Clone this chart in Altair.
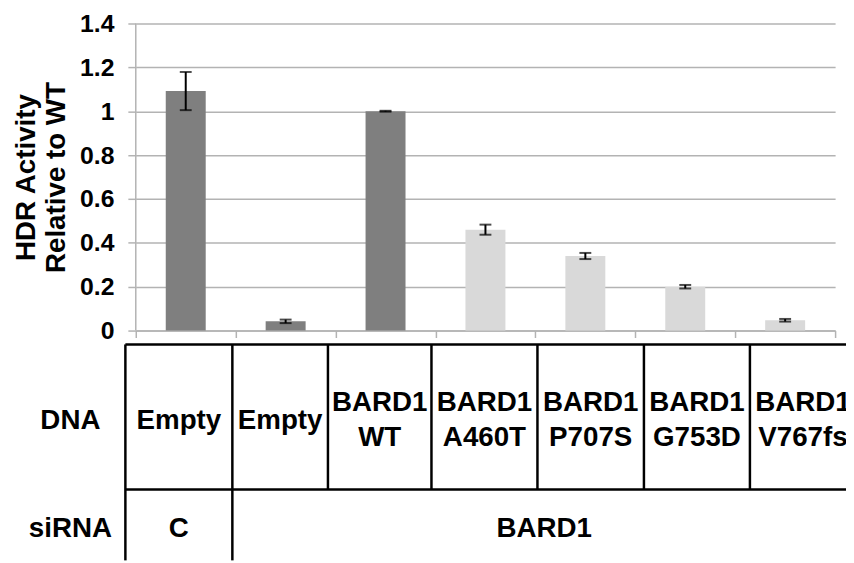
import altair as alt
import pandas as pd

# ---------------- data ----------------
bar_ids = ["Empty (siC)", "Empty (siBARD1)", "BARD1 WT", "BARD1 A460T",
           "BARD1 P707S", "BARD1 G753D", "BARD1 V767fs"]
hdr_values = [1.092, 0.042, 1.000, 0.460, 0.340, 0.200, 0.047]
hdr_errors = [0.087, 0.008, 0.002, 0.023, 0.014, 0.008, 0.006]
bar_group = ["dark", "dark", "dark", "light", "light", "light", "light"]

dna_line1 = ["Empty", "Empty", "BARD1", "BARD1", "BARD1", "BARD1", "BARD1"]
dna_line2 = ["", "", "WT", "A460T", "P707S", "G753D", "V767fs"]
sirna_labels = ["C", "BARD1"]
sirna_span = [(0, 1), (1, 7)]          # table columns covered by each siRNA cell
row_titles = ["DNA", "siRNA"]
y_ticks = [0, 0.2, 0.4, 0.6, 0.8, 1, 1.2, 1.4]
y_title = ["HDR Activity", "Relative to WT"]

# ---------------- layout ----------------
FONT = "Liberation Sans"
GRID = "#b3b3b3"
PAD_L, PAD_T = 129, 13
W, H = 706, 542
ZERO_PX = 310                           # pixels from plot top to y = 0
Y_MAX = y_ticks[-1]
Y_MIN = -(H - ZERO_PX) * Y_MAX / ZERO_PX

COL_EDGES = [-10.5, 97.5, 194, 298.5, 405.5, 513, 620, 727]
ROW_TOP, ROW_MID, ROW_BOT = 324, 470.5, 542
HEAD_X = -66
ROW1_Y, ROW2_Y = 401, 510
LINE_GAP = 35

# ---------------- frames ----------------
bars_df = pd.DataFrame({"id": bar_ids, "v": hdr_values, "e": hdr_errors, "g": bar_group})
bars_df["lo"] = bars_df["v"] - bars_df["e"]
bars_df["hi"] = bars_df["v"] + bars_df["e"]

txt = [{"t": row_titles[0], "x": HEAD_X, "y": ROW1_Y},
       {"t": row_titles[1], "x": HEAD_X, "y": ROW2_Y}]
for i, (a, b) in enumerate(zip(dna_line1, dna_line2)):
    cx = (COL_EDGES[i] + COL_EDGES[i + 1]) / 2
    if b:
        txt.append({"t": a, "x": cx, "y": ROW1_Y - LINE_GAP / 2})
        txt.append({"t": b, "x": cx, "y": ROW1_Y + LINE_GAP / 2})
    else:
        txt.append({"t": a, "x": cx, "y": ROW1_Y})
for lab, (a, b) in zip(sirna_labels, sirna_span):
    txt.append({"t": lab, "x": (COL_EDGES[a] + COL_EDGES[b]) / 2, "y": ROW2_Y})
txt_df = pd.DataFrame(txt)

lines = [{"x": COL_EDGES[0], "x2": COL_EDGES[-1], "y": ROW_TOP, "y2": ROW_TOP},
         {"x": COL_EDGES[0], "x2": COL_EDGES[-1], "y": ROW_MID, "y2": ROW_MID}]
for i, e in enumerate(COL_EDGES[:-1]):
    lines.append({"x": e, "x2": e, "y": ROW_TOP, "y2": ROW_BOT if i < 2 else ROW_MID})
lines_df = pd.DataFrame(lines)

# ---------------- bar panel ----------------
x_band = alt.Scale(paddingInner=0, paddingOuter=0)
y_scale = alt.Scale(domain=[Y_MIN, Y_MAX], nice=False, zero=False)

x_main = alt.X("id:N", sort=bar_ids, scale=x_band,
               axis=alt.Axis(labels=False, title=None, ticks=True, tickBand="extent",
                             tickSize=7, tickColor=GRID, tickWidth=1.5,
                             domainColor=GRID, domainWidth=1.5,
                             offset=-(H - ZERO_PX), grid=False))
x_plain = alt.X("id:N", sort=bar_ids, scale=x_band, axis=None)

y_main = alt.Y("v:Q", scale=y_scale,
               axis=alt.Axis(values=y_ticks, format="~g", grid=True, gridColor=GRID,
                             gridWidth=1.5, domain=False, tickSize=8, tickColor=GRID,
                             tickWidth=1.5, labelFont=FONT, labelFontSize=25,
                             labelFontWeight="bold", labelColor="black", labelPadding=14,
                             title=y_title, titleFont=FONT, titleFontSize=28,
                             titleFontWeight="bold", titleColor="black",
                             titleAngle=270, titleAlign="center",
                             titleBaseline="alphabetic", titleLineHeight=30,
                             titleX=-102, titleY=155))

bars = alt.Chart(bars_df).mark_bar(width=alt.RelativeBandSize(0.4)).encode(
    x=x_main, y=y_main,
    color=alt.Color("g:N", scale=alt.Scale(domain=["dark", "light"],
                                           range=["#7f7f7f", "#d9d9d9"]), legend=None),
)
err_rule = alt.Chart(bars_df).mark_rule(color="black", strokeWidth=2).encode(
    x=x_plain, y=alt.Y("lo:Q", scale=y_scale, axis=None), y2="hi:Q")
err_caps = alt.Chart(bars_df).transform_fold(["lo", "hi"]).mark_tick(
    color="black", thickness=2, size=12).encode(
    x=x_plain, y=alt.Y("value:Q", scale=y_scale, axis=None))
y_domain = alt.Chart(pd.DataFrame({"a": [y_ticks[0]], "b": [y_ticks[-1]]})).mark_rule(
    color=GRID, strokeWidth=1.5).encode(
    x=alt.value(0), y=alt.Y("a:Q", scale=y_scale, axis=None), y2="b:Q")

# ---------------- table panel ----------------
tx = alt.Scale(domain=[0, W], nice=False, zero=False)
ty = alt.Scale(domain=[0, H], nice=False, zero=False, reverse=True)

tab_lines = alt.Chart(lines_df).mark_rule(color="black", strokeWidth=2.5).encode(
    x=alt.X("x:Q", scale=tx, axis=None), x2="x2:Q",
    y=alt.Y("y:Q", scale=ty, axis=None), y2="y2:Q")
tab_text = alt.Chart(txt_df).mark_text(
    font=FONT, fontSize=28, fontWeight="bold", color="black",
    align="center", baseline="middle").encode(
    x=alt.X("x:Q", scale=tx, axis=None),
    y=alt.Y("y:Q", scale=ty, axis=None),
    text="t:N")

chart = alt.layer(bars, y_domain, err_rule, err_caps, tab_lines, tab_text).resolve_scale(
    x="independent", y="independent").properties(
    width=W, height=H,
    padding={"left": PAD_L, "top": PAD_T, "right": 846 - PAD_L - W, "bottom": 0},
    autosize=alt.AutoSizeParams(type="none"),
).configure_view(strokeWidth=0)

chart.save("out.html", embed_options={"renderer": "svg", "actions": False})
